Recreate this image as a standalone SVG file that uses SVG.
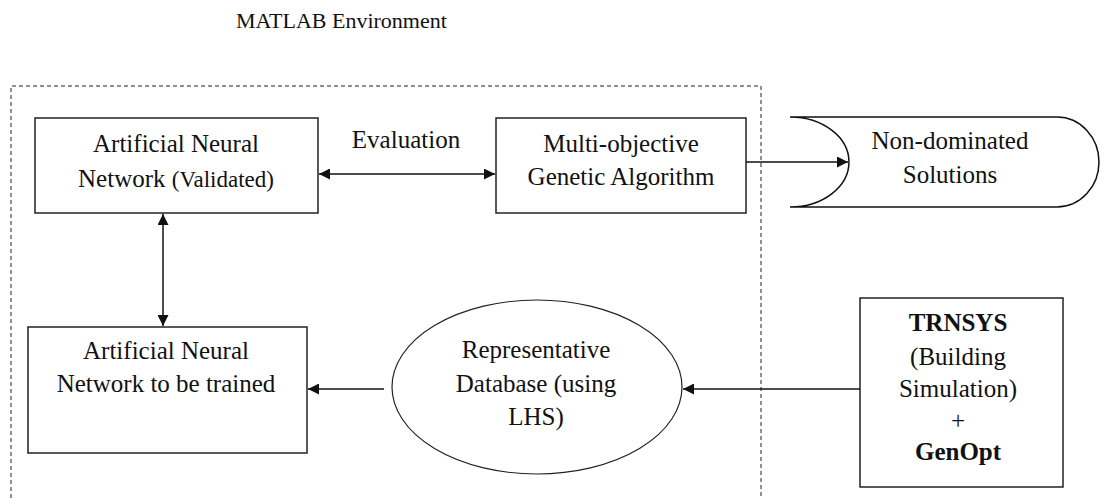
<svg xmlns="http://www.w3.org/2000/svg" width="1101" height="499" viewBox="0 0 1101 499">
<defs>
<style>
.t{font-family:"Liberation Serif","Times New Roman",serif;font-size:25px;fill:#111;text-anchor:middle}
.b{font-weight:bold}
.box{fill:#fff;stroke:#222;stroke-width:1.5}
.ln{fill:none;stroke:#111;stroke-width:1.5}
</style>
<marker id="ah" viewBox="0 0 10 10" refX="10" refY="5" markerWidth="13" markerHeight="11" markerUnits="userSpaceOnUse" orient="auto-start-reverse">
<path d="M0,0 L10,5 L0,10 z" fill="#111"/>
</marker>
</defs>
<rect width="1101" height="499" fill="#fff"/>
<text class="t" x="236" y="28" style="font-size:22px;text-anchor:start">MATLAB Environment</text>
<path d="M11,505 L11,86 L761,86 L761,505" fill="none" stroke="#222" stroke-width="1" stroke-dasharray="4,3"/>
<g id="ann-validated">
<rect class="box" x="35" y="118" width="283" height="95"/>
<text class="t" x="176" y="152">Artificial Neural</text>
<text class="t" x="176" y="187">Network <tspan style="font-size:23px">(Validated)</tspan></text>
</g>
<g id="moga">
<rect class="box" x="496" y="118" width="250" height="95"/>
<text class="t" x="621" y="152">Multi-objective</text>
<text class="t" x="621" y="185">Genetic Algorithm</text>
</g>
<g id="nondominated">
<path class="ln" d="M790,117 L1057,117 A42,45 0 0 1 1057,207 L790,207 A59,45 0 0 0 790,117"/>
<text class="t" x="950" y="149">Non-dominated</text>
<text class="t" x="950" y="183">Solutions</text>
</g>
<g id="ann-train">
<rect class="box" x="28" y="327" width="279" height="126"/>
<text class="t" x="166" y="359">Artificial Neural</text>
<text class="t" x="166" y="392">Network to be trained</text>
</g>
<g id="database">
<ellipse cx="537" cy="387" rx="145" ry="87" fill="#fff" stroke="#222" stroke-width="1.2"/>
<text class="t" x="536" y="358">Representative</text>
<text class="t" x="536" y="392">Database (using</text>
<text class="t" x="536" y="425">LHS)</text>
</g>
<g id="trnsys">
<rect class="box" x="860" y="298" width="203" height="189"/>
<text class="t b" x="958" y="331">TRNSYS</text>
<text class="t" x="958" y="365">(Building</text>
<text class="t" x="958" y="397">Simulation)</text>
<text class="t" x="958" y="429">+</text>
<text class="t b" x="958" y="460">GenOpt</text>
</g>
<g id="connectors">
<line class="ln" x1="319" y1="174" x2="495" y2="174" marker-start="url(#ah)" marker-end="url(#ah)"/>
<text class="t" x="406" y="148">Evaluation</text>
<line class="ln" x1="746" y1="162" x2="848" y2="162" marker-end="url(#ah)"/>
<line class="ln" x1="163" y1="214" x2="163" y2="326" marker-start="url(#ah)" marker-end="url(#ah)"/>
<line class="ln" x1="384" y1="389" x2="308" y2="389" marker-end="url(#ah)"/>
<line class="ln" x1="860" y1="389" x2="683" y2="389" marker-end="url(#ah)"/>
</g>
</svg>
